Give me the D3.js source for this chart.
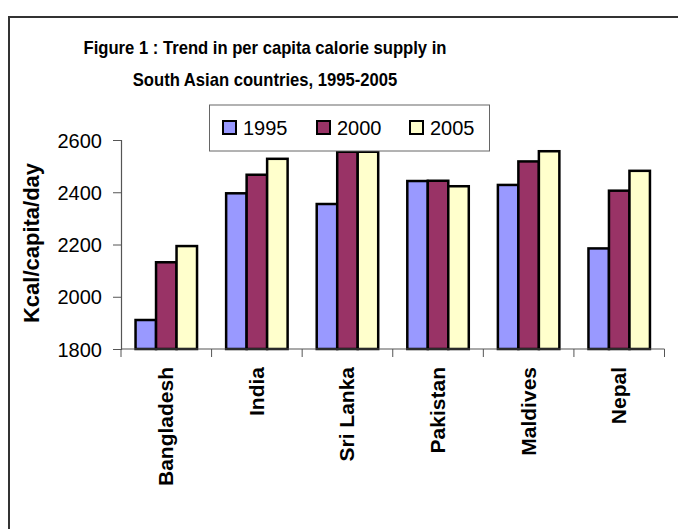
<!DOCTYPE html>
<html>
<head>
<meta charset="utf-8">
<script src="https://cdn.jsdelivr.net/npm/d3@7"></script>
<style>
  html, body { margin: 0; padding: 0; background: #fff; }
  svg { display: block; font-family: "Liberation Sans", Arial, sans-serif; }
</style>
</head>
<body>
<svg id="chart" width="678" height="529"></svg>
<script>
// Per capita calorie supply (kcal/capita/day) by country and year
const countries = ["Bangladesh", "India", "Sri Lanka", "Pakistan", "Maldives", "Nepal"];
const years = ["1995", "2000", "2005"];
const values1995 = [1911, 2396, 2355, 2443, 2428, 2185];
const values2000 = [2132, 2467, 2555, 2444, 2518, 2406];
const values2005 = [2194, 2528, 2555, 2423, 2557, 2482];
const yTicks = [1800, 2000, 2200, 2400, 2600];
const titleLines = ["Figure 1 : Trend in per capita calorie supply in", "South Asian countries, 1995-2005"];
const yTitle = "Kcal/capita/day";
const colors = ["#9999FF", "#993366", "#FFFFCC"];

const seriesByYear = [values1995, values2000, values2005];
const rows = countries.map((c, i) => ({
  country: c,
  vals: years.map((y, j) => ({ year: y, value: seriesByYear[j][i] }))
}));

const svg = d3.select("#chart");

// Outer chart frame
svg.append("rect")
  .attr("x", 9).attr("y", 17)
  .attr("width", 700).attr("height", 560)
  .attr("fill", "#fff").attr("stroke", "#333").attr("stroke-width", 2);

// Title (two centred bold lines)
titleLines.forEach((t, i) => {
  svg.append("g")
    .attr("transform", `translate(265,${54 + i * 32}) scale(0.875,1)`)
    .append("text")
    .attr("text-anchor", "middle")
    .attr("font-size", 19).attr("font-weight", "bold")
    .attr("fill", "#000")
    .text(t);
});

const plot = { left: 121, right: 664.5, top: 140, bottom: 349 };

const x0 = d3.scaleBand().domain(countries).range([plot.left, plot.right]).padding(0);
const x1 = d3.scaleBand().domain(years).range([0, x0.bandwidth()]).paddingInner(0).paddingOuter(0.71);
const y = d3.scaleLinear().domain([1800, 2600]).range([plot.bottom, plot.top]);

// Bars
const groups = svg.append("g").selectAll("g")
  .data(rows).join("g")
  .attr("transform", d => `translate(${x0(d.country)},0)`);

groups.selectAll("rect")
  .data(d => d.vals).join("rect")
  .attr("x", d => x1(d.year))
  .attr("y", d => y(d.value))
  .attr("width", x1.bandwidth())
  .attr("height", d => y(1800) - y(d.value))
  .attr("fill", (d, i) => colors[i])
  .attr("stroke", "#000").attr("stroke-width", 2.5);

// Y axis
const yAxis = svg.append("g")
  .attr("transform", `translate(${plot.left},0)`)
  .call(d3.axisLeft(y).tickValues(yTicks).tickSize(8).tickPadding(11).tickFormat(d3.format("d")));
yAxis.select(".domain").attr("stroke", "#555").attr("stroke-width", 1.2);
yAxis.selectAll(".tick line").attr("stroke", "#555");
yAxis.selectAll(".tick text")
  .attr("font-size", 20).attr("fill", "#000")
  .attr("font-family", "Liberation Sans, Arial, sans-serif")
  .attr("dy", "0.36em");

// X axis with ticks at category boundaries
const xAxisG = svg.append("g");
xAxisG.append("line")
  .attr("x1", plot.left).attr("x2", plot.right)
  .attr("y1", plot.bottom).attr("y2", plot.bottom)
  .attr("stroke", "#555").attr("stroke-width", 1.2);
const boundaries = countries.map(c => x0(c)).concat([x0.range()[1]]);
xAxisG.selectAll("line.tk")
  .data(boundaries).join("line")
  .attr("class", "tk")
  .attr("x1", d => d).attr("x2", d => d)
  .attr("y1", plot.bottom).attr("y2", plot.bottom + 8)
  .attr("stroke", "#555");

// Rotated category labels
xAxisG.selectAll("text.cat")
  .data(countries).join("text")
  .attr("class", "cat")
  .attr("transform", d => `translate(${x0(d) + x0.bandwidth() / 2 + 7},367) rotate(-90)`)
  .attr("text-anchor", "end")
  .attr("font-size", 21).attr("font-weight", "bold")
  .attr("fill", "#000")
  .text(d => d);

// Y axis title
svg.append("text")
  .attr("transform", "translate(39,243) rotate(-90)")
  .attr("text-anchor", "middle")
  .attr("font-size", 22).attr("font-weight", "bold")
  .attr("fill", "#000")
  .text(yTitle);

// Legend
const legend = svg.append("g");
legend.append("rect")
  .attr("x", 209.5).attr("y", 105)
  .attr("width", 280).attr("height", 46)
  .attr("fill", "#fff").attr("stroke", "#666").attr("stroke-width", 1);
const legendX = [223, 317, 410];
years.forEach((yr, i) => {
  legend.append("rect")
    .attr("x", legendX[i]).attr("y", 121)
    .attr("width", 13).attr("height", 13)
    .attr("fill", colors[i]).attr("stroke", "#000").attr("stroke-width", 2);
  legend.append("text")
    .attr("x", legendX[i] + 20).attr("y", 135)
    .attr("font-size", 20).attr("fill", "#000")
    .text(yr);
});
</script>
</body>
</html>
